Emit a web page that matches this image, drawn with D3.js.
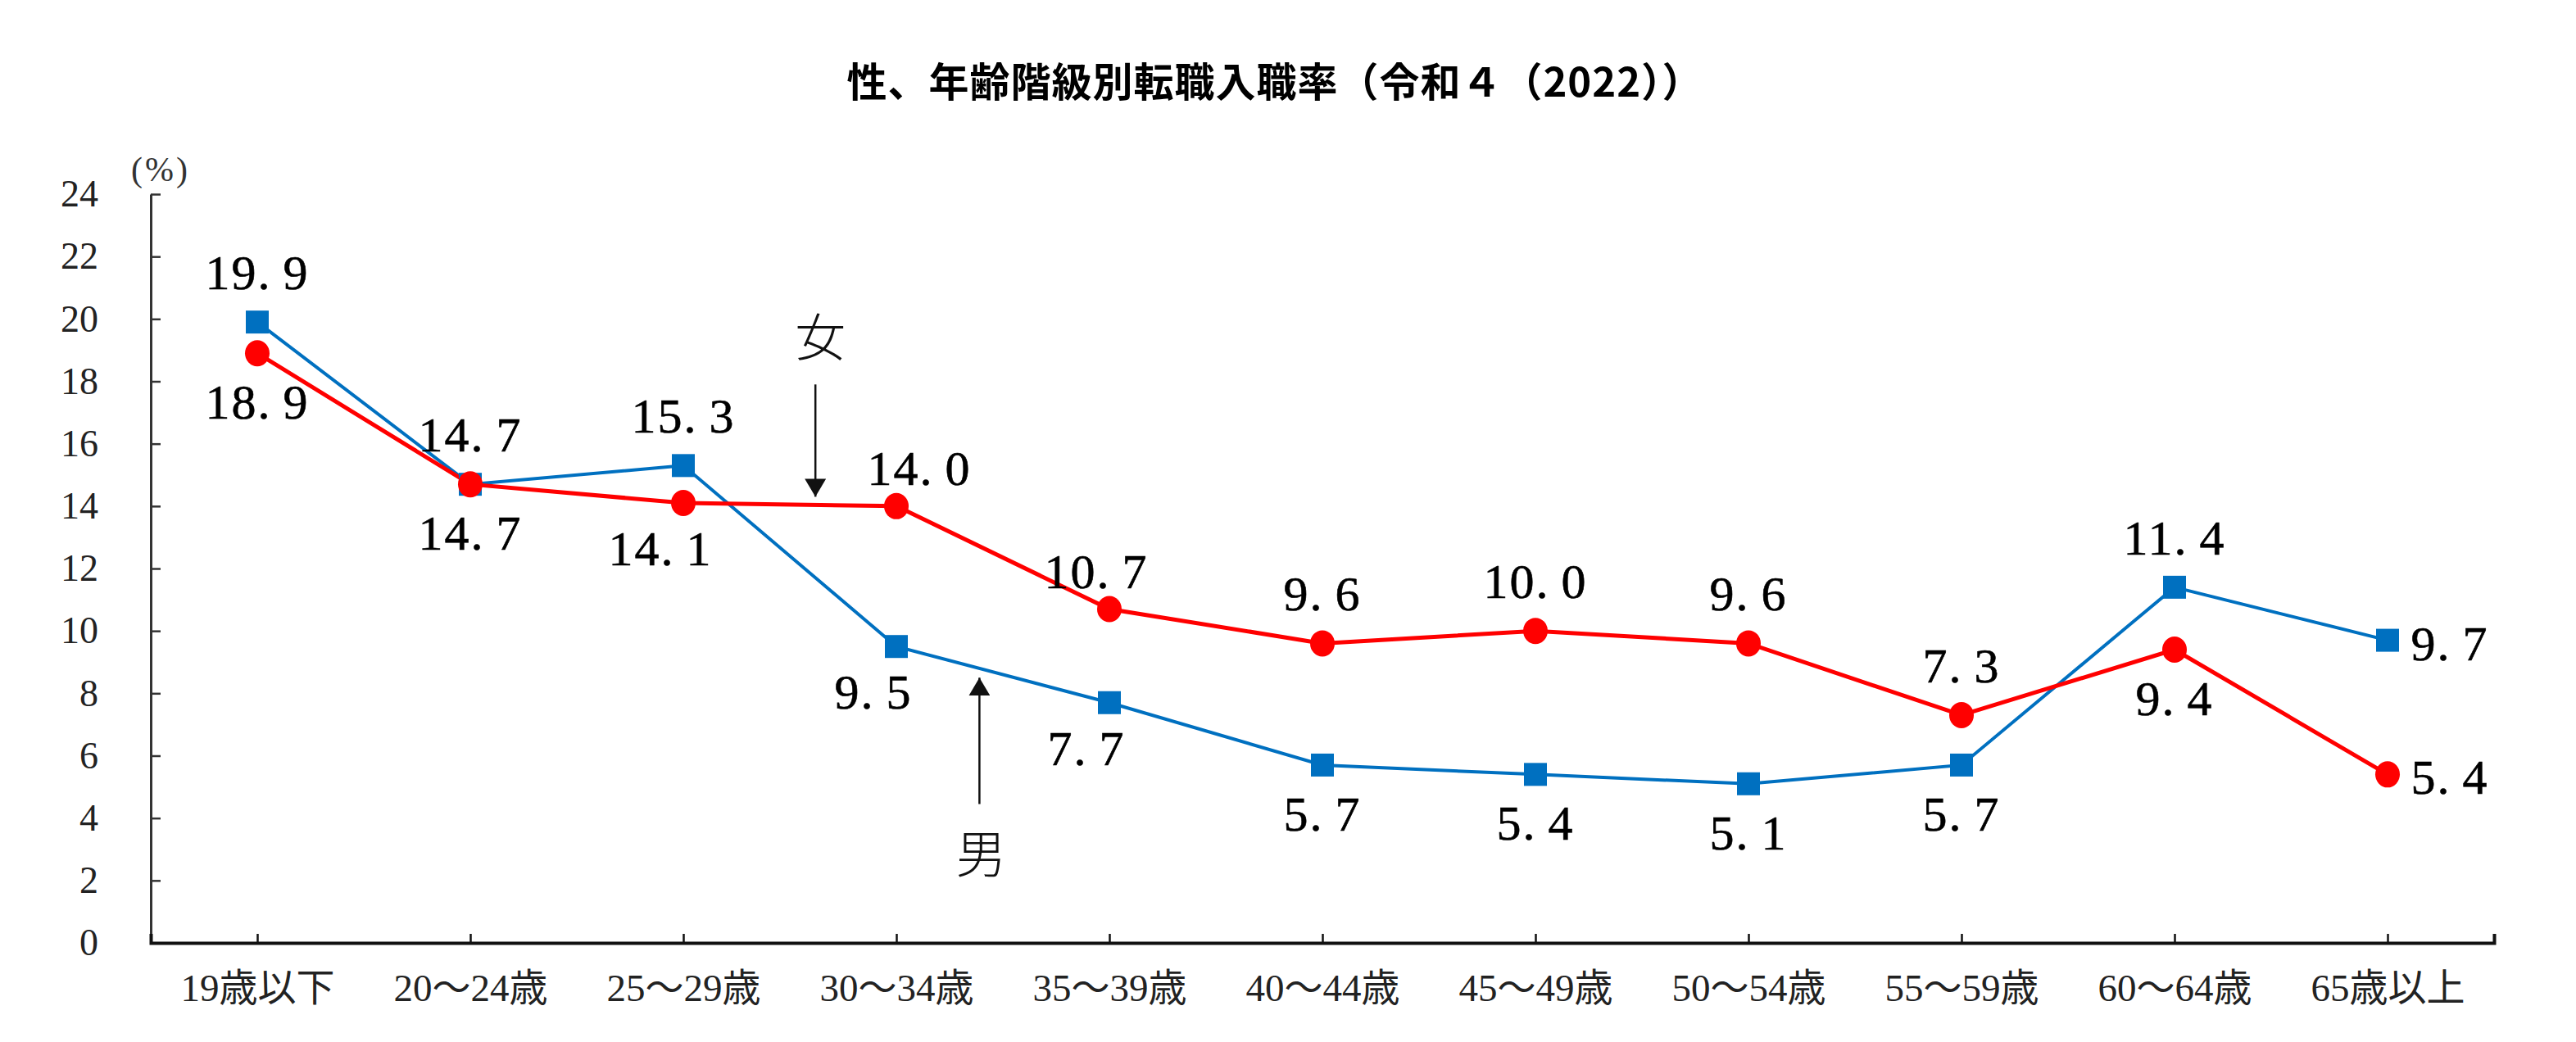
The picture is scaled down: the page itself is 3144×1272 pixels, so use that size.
<!DOCTYPE html>
<html>
<head>
<meta charset="utf-8">
<script src="https://cdn.jsdelivr.net/npm/d3@7/dist/d3.min.js"></script>
<style>
  html, body { margin: 0; padding: 0; background: #fff; }
  svg { display: block; }
</style>
</head>
<body>
<svg id="chart" width="3144" height="1272"></svg>
<script>
// ---- data ----
const titleText = "性、年齢階級別転職入職率（令和４（2022））";
const categories = ["19歳以下", "20～24歳", "25～29歳", "30～34歳", "35～39歳", "40～44歳", "45～49歳", "50～54歳", "55～59歳", "60～64歳", "65歳以上"];
const menValues   = [19.9, 14.7, 15.3, 9.5, 7.7, 5.7, 5.4, 5.1, 5.7, 11.4, 9.7];
const womenValues = [18.9, 14.7, 14.1, 14.0, 10.7, 9.6, 10.0, 9.6, 7.3, 9.4, 5.4];
const menLabelPlace   = ["t", "t", "t", "bl", "bl", "b", "b", "b", "b", "t", "r"];
const womenLabelPlace = ["b", "b", "bl", "tr", "tl", "t", "t", "t", "t", "b", "r"];
const yTicks = [0, 2, 4, 6, 8, 10, 12, 14, 16, 18, 20, 22, 24];
const yUnit = "(%)";
// annotations: label, category index to start from, fraction toward next, tip value, tail value, label value
const annotations = [
  { text: "女", cat: 2, frac: 0.62, tip: 14.3, tail: 17.9, labelValue: 19.5, dir: "down" },
  { text: "男", cat: 3, frac: 0.39, tip: 8.5, tail: 4.45, labelValue: 2.95, dir: "up" }
];

// ---- layout ----
const svg = d3.select("#chart");
const mLeft = 184, mRight = 3044, mTop = 237, mBottom = 1151;

const x = d3.scalePoint().domain(categories).range([mLeft, mRight]).padding(0.5);
const y = d3.scaleLinear().domain([0, 24]).range([mBottom, mTop]);

const serif = "'Liberation Serif', 'Noto Sans CJK JP', serif";

// title
svg.append("text")
  .attr("x", 1556).attr("y", 96)
  .attr("text-anchor", "middle")
  .attr("dominant-baseline", "central")
  .attr("font-family", "'Noto Sans CJK JP', sans-serif")
  .attr("font-weight", "bold")
  .attr("font-size", 49)
  .attr("letter-spacing", 1)
  .attr("fill", "#000")
  .text(titleText);

// y axis
const yAxis = d3.axisLeft(y).tickValues(yTicks).tickSizeInner(-12).tickSizeOuter(0).tickPadding(64);
const gy = svg.append("g").attr("transform", `translate(${mLeft},0)`).call(yAxis);
gy.select(".domain").attr("stroke", "#333").attr("stroke-width", 3);
gy.selectAll(".tick line").attr("stroke", "#333").attr("stroke-width", 2.5);
gy.selectAll(".tick text")
  .attr("font-family", serif).attr("font-size", 46).attr("fill", "#222");

// unit
svg.append("text")
  .attr("x", mLeft + 12).attr("y", mTop - 30)
  .attr("text-anchor", "middle")
  .attr("dominant-baseline", "central")
  .attr("font-family", serif).attr("font-size", 42).attr("letter-spacing", 3).attr("fill", "#333")
  .text(yUnit);

// x axis
const xAxis = d3.axisBottom(x).tickSizeInner(-11).tickSizeOuter(-11).tickPadding(38);
const gx = svg.append("g").attr("transform", `translate(0,${mBottom})`).call(xAxis);
gx.select(".domain").attr("stroke", "#111").attr("stroke-width", 4).attr("fill", "none");
gx.selectAll(".tick line").attr("stroke", "#111").attr("stroke-width", 2.5);
gx.selectAll(".tick text")
  .attr("font-family", serif).attr("font-size", 47).attr("fill", "#222");

// lines
const line = d3.line().x((d, i) => x(categories[i])).y(d => y(d));

const blue = "#0070C0", red = "#FF0000";

svg.append("path").datum(menValues)
  .attr("d", line).attr("fill", "none").attr("stroke", blue).attr("stroke-width", 4);
svg.append("path").datum(womenValues)
  .attr("d", line).attr("fill", "none").attr("stroke", red).attr("stroke-width", 5);

// markers
const sq = 28;
svg.append("g").selectAll("rect").data(menValues).join("rect")
  .attr("x", (d, i) => x(categories[i]) - sq / 2)
  .attr("y", d => y(d) - sq / 2)
  .attr("width", sq).attr("height", sq)
  .attr("fill", blue);

svg.append("g").selectAll("ellipse").data(womenValues).join("ellipse")
  .attr("cx", (d, i) => x(categories[i]))
  .attr("cy", d => y(d))
  .attr("rx", 15).attr("ry", 16)
  .attr("fill", red);

// data labels
function offset(place) {
  switch (place) {
    case "t": return [0, -60];
    case "b": return [0, 60];
    case "bl": return [-28, 56];
    case "tr": return [28, -46];
    case "tl": return [-16, -46];
    case "r": return [76, 4];
  }
  return [0, 0];
}
function drawLabels(vals, places) {
  const t = svg.append("g").selectAll("text").data(vals).join("text")
    .attr("x", (d, i) => x(categories[i]) + offset(places[i])[0])
    .attr("y", (d, i) => y(d) + offset(places[i])[1])
    .attr("text-anchor", "middle")
    .attr("dominant-baseline", "central")
    .attr("font-family", serif)
    .attr("font-size", 60)
    .attr("letter-spacing", 2)
    .attr("fill", "#000")
    .attr("stroke", "#000").attr("stroke-width", 0.6);
  t.each(function(d) {
    const parts = d3.format(".1f")(d).split(".");
    const s = d3.select(this);
    s.append("tspan").text(parts[0] + ".");
    s.append("tspan").attr("dx", 14).text(parts[1]);
  });
}
drawLabels(menValues, menLabelPlace);
drawLabels(womenValues, womenLabelPlace);

// arrow annotations
const defs = svg.append("defs");
defs.append("marker")
  .attr("id", "arrowhead")
  .attr("viewBox", "0 0 10 10")
  .attr("refX", 10).attr("refY", 5)
  .attr("markerUnits", "userSpaceOnUse")
  .attr("preserveAspectRatio", "none")
  .attr("markerWidth", 22).attr("markerHeight", 26)
  .attr("orient", "auto")
  .append("path").attr("d", "M0,0 L10,5 L0,10 Z").attr("fill", "#111");

annotations.forEach(a => {
  const x0 = x(categories[a.cat]);
  const x1 = x(categories[a.cat + 1]);
  const ax = x0 + (x1 - x0) * a.frac;
  svg.append("line")
    .attr("x1", ax).attr("y1", y(a.tail))
    .attr("x2", ax).attr("y2", y(a.tip))
    .attr("stroke", "#111").attr("stroke-width", 2.5)
    .attr("marker-end", "url(#arrowhead)");
  svg.append("text")
    .attr("x", ax + (a.dir === "down" ? 6 : 2))
    .attr("y", y(a.labelValue))
    .attr("text-anchor", "middle")
    .attr("dominant-baseline", "central")
    .attr("font-family", "'Noto Sans CJK JP', serif")
    .attr("font-weight", 300)
    .attr("font-size", 62)
    .attr("fill", "#111")
    .text(a.text);
});
</script>
</body>
</html>
